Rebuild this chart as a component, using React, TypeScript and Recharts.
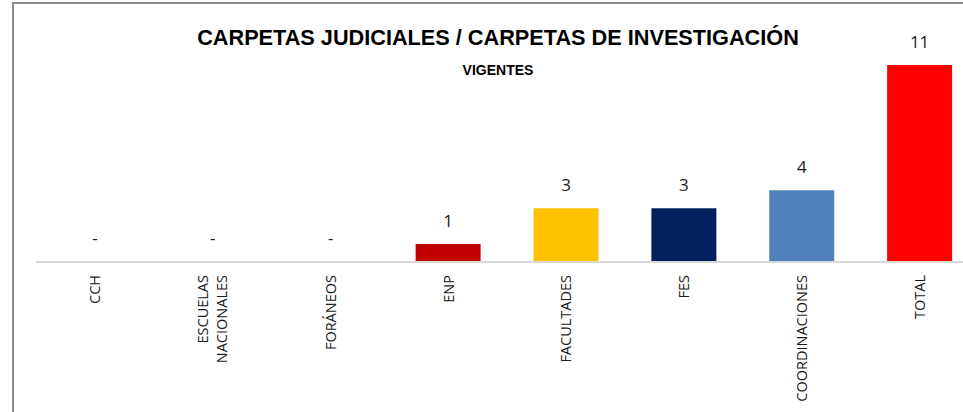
import React from "react"
import { Bar, BarChart, Cell, LabelList, XAxis, YAxis } from "recharts"

const categories = ["CCH", "ESCUELAS NACIONALES", "FORÁNEOS", "ENP", "FACULTADES", "FES", "COORDINACIONES", "TOTAL"]
const values = [0, 0, 0, 1, 3, 3, 4, 11]
const barColors = ["#7f7f7f", "#7f7f7f", "#7f7f7f", "#C00000", "#FFC000", "#002060", "#4F81BD", "#FF0000"]
const tickLines: Record<string, string[]> = {
  "ESCUELAS NACIONALES": ["ESCUELAS", "NACIONALES"],
}

const data = categories.map((name, i) => ({ name, value: values[i] }))

const labelFont = "'Open Sans', sans-serif"

// zero-height bars get no label from LabelList, so the "-" is drawn with the tick
const AxisTick = ({ x, y, payload }: any) => {
  const lines = tickLines[payload.value] ?? [payload.value]
  const gap = 19
  const v = values[payload.index]
  return (
    <g>
      {v === 0 && (
        <text x={x} y={y - 26} textAnchor="middle" fontFamily={labelFont} fontSize={17} fill="#1a1a1a">
          -
        </text>
      )}
      <g transform={`translate(${x},${y + 5})`}>
        {lines.map((line, i) => (
          <text
            key={line}
            transform="rotate(-90)"
            x={0}
            y={(i - (lines.length - 1) / 2) * gap + 5}
            textAnchor="end"
            fontFamily={labelFont}
            fontSize={14.5}
            fill="#1a1a1a"
          >
            {line}
          </text>
        ))}
      </g>
    </g>
  )
}

const ValueLabel = ({ x, y, width, value }: any) =>
  value === 0 ? null : (
    <text x={x + width / 2} y={y - 17} textAnchor="middle" fontFamily={labelFont} fontSize={17} fill="#1a1a1a">
      {value}
    </text>
  )

export default function App() {
  return (
    <div style={{ position: "fixed", left: 0, top: 0, width: 963, height: 412, overflow: "hidden", background: "#fff" }}>
      <div style={{ position: "absolute", left: 12, top: 2, width: 2000, height: 1000, borderLeft: "2px solid #8c8c8c", borderTop: "2px solid #8c8c8c" }} />
      <div
        style={{
          position: "absolute",
          left: 0,
          width: 996,
          top: 25,
          textAlign: "center",
          fontFamily: "'Liberation Sans Narrow', 'Liberation Sans', sans-serif",
          fontWeight: 700,
          fontSize: 21.7,
          color: "#000",
          lineHeight: "26px",
        }}
      >
        CARPETAS JUDICIALES / CARPETAS DE INVESTIGACIÓN
      </div>
      <div
        style={{
          position: "absolute",
          left: 0,
          width: 996,
          top: 61,
          textAlign: "center",
          fontFamily: "'Liberation Sans Narrow', 'Liberation Sans', sans-serif",
          fontWeight: 700,
          fontSize: 14,
          color: "#000",
          lineHeight: "18px",
        }}
      >
        VIGENTES
      </div>
      <div style={{ position: "absolute", left: 0, top: 0 }}>
        <BarChart width={1000} height={412} data={data} margin={{ top: 47, right: 21, left: 36, bottom: 0 }}>
          <XAxis
            dataKey="name"
            interval={0}
            height={150}
            tickLine={false}
            axisLine={{ stroke: "#d9d9d9", strokeWidth: 2 }}
            tick={<AxisTick />}
          />
          <YAxis hide domain={[0, 12]} />
          <Bar dataKey="value" barSize={65} isAnimationActive={false}>
            {data.map((d, i) => (
              <Cell key={d.name} fill={barColors[i]} />
            ))}
            <LabelList dataKey="value" content={<ValueLabel />} />
          </Bar>
        </BarChart>
      </div>
    </div>
  )
}
